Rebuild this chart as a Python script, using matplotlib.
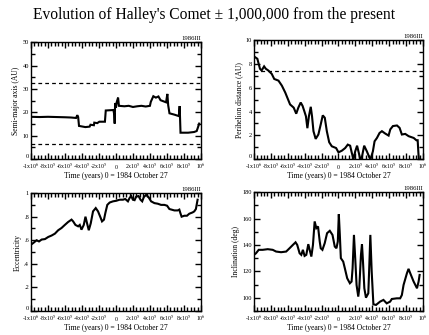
import matplotlib
matplotlib.use("Agg")
import matplotlib.pyplot as plt
from matplotlib.ticker import MultipleLocator, FixedLocator, FixedFormatter
import numpy as np

plt.rcParams['font.family'] = ['Liberation Serif', 'DejaVu Serif']
plt.rcParams['mathtext.fontset'] = 'stix'

title = "Evolution of Halley's Comet \u00b1 1,000,000 from the present"
xlabel = "Time (years) 0 = 1984 October 27"
tag = "1986III"

xtick_vals = [-1e6, -8e5, -6e5, -4e5, -2e5, 0, 2e5, 4e5, 6e5, 8e5, 1e6]
xtick_labels = [r"-1x10$^{6}$", r"-8x10$^{5}$", r"-6x10$^{5}$", r"-4x10$^{5}$", r"-2x10$^{5}$",
                "0", r"2x10$^{5}$", r"4x10$^{5}$", r"6x10$^{5}$", r"8x10$^{5}$", r"10$^{6}$"]

# Semi-major axis (AU); time in units of 1e5 years
a_t = [-10, -9.0, -8.0, -7.0, -6.0, -5.3, -4.7, -4.55, -4.45, -4.35, -3.6, -3.1, -3.0, -2.6,
       -2.55, -2.2, -1.96, -1.3, -1.2, -0.3, -0.2, -0.15, -0.1, 0.0, 0.1, 0.25, 0.35, 1.0,
       1.5, 2.0, 2.5, 3.0, 3.5, 4.0, 4.1, 4.4, 4.7, 5.0, 5.25, 5.9, 6.05, 6.15, 6.3, 6.9,
       7.4, 7.5, 7.6, 8.5, 9.2, 9.5, 9.6, 9.8]
a_v = [18.1, 18.0, 18.1, 18.0, 17.9, 17.8, 17.6, 18.8, 18.0, 14.2, 13.7, 13.9, 14.7, 14.5,
       15.6, 15.4, 16.0, 16.0, 20.8, 21.0, 19.0, 15.2, 24.0, 22.0, 24.5, 26.3, 22.8, 22.6,
       22.8, 22.3, 22.6, 22.8, 22.5, 22.8, 24.5, 26.9, 26.3, 26.8, 25.2, 24.3, 27.9, 23.0,
       19.6, 19.0, 18.4, 22.7, 11.3, 11.3, 11.6, 12.0, 13.0, 15.2]
a_dash = [32.7, 6.3]

# Perihelion distance (AU)
q_t = [-9.88, -9.6, -9.29, -9.1, -8.8, -8.6, -8.3, -7.9, -7.6, -7.1, -6.7, -6.3, -5.9, -5.73,
       -5.3, -5.0, -4.75, -4.47, -4.25, -4.05, -3.85, -3.68, -3.5, -3.28, -3.13, -2.96, -2.7,
       -2.38, -2.1, -1.86, -1.62, -1.38, -1.1, -0.79, -0.28, 0.0, 0.4, 0.79, 1.1, 1.38, 1.58,
       1.78, 1.98, 2.2, 2.41, 2.57, 2.77, 3.04, 3.36, 3.64, 3.83, 4.07, 4.27, 4.55, 4.86, 5.14,
       5.53, 5.93, 6.13, 6.44, 6.92, 7.23, 7.5, 7.9, 8.3, 8.9, 9.21, 9.37, 9.45, 9.5]
q_v = [8.58, 8.44, 7.6, 7.45, 7.8, 7.6, 7.45, 7.17, 6.74, 6.6, 6.18, 5.6, 4.9, 4.6,
       4.33, 3.82, 4.33, 4.76, 4.48, 4.05, 3.6, 2.6, 3.6, 4.4, 3.6, 2.35, 1.7,
       2.07, 2.92, 3.68, 3.48, 2.35, 1.42, 1.08, 0.93, 0.57, 0.71, 0.93, 1.22, 1.13, 0.51,
       0.0, 0.65, 1.13, 0.51, 0.0, 0.17, 1.13, 0.65, 0.17, 0.08, 0.65, 1.5, 1.78, 2.2, 2.35,
       2.15, 1.98, 2.5, 2.78, 2.83, 2.63, 2.07, 2.12, 1.93, 1.78, 1.59, 1.59, 0.6, 0.05]
q_dash = [7.45]

# Eccentricity
e_t = [-10, -9.73, -9.34, -9.06, -8.75, -8.36, -7.97, -7.58, -7.19, -6.8, -6.41, -6.02, -5.63,
       -5.23, -5.04, -4.77, -4.45, -4.26, -4.06, -3.79, -3.59, -3.4, -3.2, -2.97, -2.7, -2.38,
       -2.11, -1.8, -1.64, -1.41, -1.25, -1.02, -0.74, -0.35, 0.04, 0.43, 0.82, 1.09, 1.41,
       1.6, 1.8, 1.99, 2.19, 2.38, 2.66, 2.89, 3.09, 3.28, 3.55, 3.83, 4.14, 4.53, 4.92, 5.31,
       5.7, 6.02, 6.29, 6.88, 7.27, 7.46, 7.58, 7.73, 8.05, 8.36, 8.63, 9.02, 9.22, 9.41, 9.61]
e_v = [0.563, 0.577, 0.6, 0.59, 0.606, 0.61, 0.628, 0.64, 0.656, 0.685, 0.704, 0.73, 0.755,
       0.775, 0.76, 0.73, 0.718, 0.73, 0.69, 0.73, 0.8, 0.743, 0.685, 0.743, 0.845, 0.873,
       0.845, 0.79, 0.76, 0.775, 0.831, 0.9, 0.92, 0.93, 0.935, 0.944, 0.944, 0.95, 0.93,
       0.958, 0.975, 0.944, 0.94, 0.97, 0.975, 0.944, 0.93, 0.966, 0.985, 0.966, 0.93, 0.915,
       0.91, 0.9, 0.9, 0.893, 0.865, 0.853, 0.853, 0.86, 0.831, 0.8, 0.808, 0.808, 0.825,
       0.836, 0.845, 0.865, 0.944]

# Inclination (deg)
i_t = [-10, -9.76, -9.44, -8.97, -8.37, -7.78, -7.38, -6.79, -6.19, -5.79, -5.4, -5.08, -4.88,
       -4.6, -4.4, -4.21, -4.01, -3.81, -3.57, -3.41, -3.21, -3.02, -2.82, -2.62, -2.42, -2.22,
       -2.1, -1.9, -1.63, -1.35, -1.03, -0.71, -0.44, -0.24, -0.08, 0.04, 0.16, 0.28, 0.56,
       0.75, 1.03, 1.35, 1.55, 1.67, 1.83, 1.98, 2.14, 2.34, 2.46, 2.66, 2.78, 2.9, 3.06, 3.25,
       3.53, 3.65, 3.77, 3.93, 4.13, 4.44, 4.92, 5.32, 5.71, 6.11, 6.31, 6.9, 7.3, 7.5, 7.7,
       8.1, 8.29, 8.49, 8.89, 9.29, 9.48, 9.6]
i_v = [132.5, 133.7, 136.3, 136.3, 136.8, 136.3, 135, 134.5, 135, 137.5, 140, 142, 140,
       133.7, 132.5, 136.3, 131.7, 132.5, 140.6, 136.3, 131.2, 140, 157.8, 152.7, 154, 142.6,
       137.5, 136.3, 141.3, 148.9, 150.7, 147.6, 138.8, 137.5, 142.6, 163.3, 147.6, 130,
       127.4, 122.4, 114.8, 111, 112.3, 122.4, 147.6, 130, 109.7, 100.9, 107.2, 132.5, 140.6,
       127.4, 107.2, 100.1, 103.4, 124.9, 147.6, 119.8, 95.1, 94.6, 97.1, 98.4, 95.8, 97.1,
       99.1, 99.6, 99.6, 102.1, 109.7, 118.6, 121.9, 118.6, 112.3, 107.2, 112.3, 117.3]

fig = plt.figure(figsize=(4.29, 3.35), dpi=100)
fig.patch.set_facecolor('white')
fig.text(0.5, 0.956, title, ha='center', va='center', fontsize=11.2)

panels = [
    ([0.0723, 0.525, 0.396, 0.349], a_t, a_v, a_dash, (0, 50), 5,
     "Semi-major axis (AU)", [str(v) for v in range(0, 51, 10)], list(range(0, 51, 10))),
    ([0.592, 0.525, 0.394, 0.355], q_t, q_v, q_dash, (0, 10), 1,
     "Perihelion distance (AU)", [str(v) for v in range(0, 11, 2)], list(range(0, 11, 2))),
    ([0.0723, 0.0716, 0.396, 0.352], e_t, e_v, [], (0, 1), 0.1,
     "Eccentricity", ["0", ".2", ".4", ".6", ".8", "1"], [0, 0.2, 0.4, 0.6, 0.8, 1.0]),
    ([0.592, 0.0716, 0.394, 0.355], i_t, i_v, [], (90, 180), 10,
     "Inclination (deg)", [str(v) for v in range(100, 181, 20)], list(range(100, 181, 20))),
]

for rect, t, v, dashes, ylim, ymin, ylab, ytl, ytv in panels:
    ax = fig.add_axes(rect)
    ax.plot(np.array(t) * 1e5, v, color='black', lw=1.5, solid_joinstyle='miter')
    for d in dashes:
        ax.axhline(d, color='black', lw=0.9, ls=(0, (3, 2.5)))
    ax.set_xlim(-1e6, 1e6)
    ax.set_ylim(*ylim)
    ax.xaxis.set_major_locator(FixedLocator(xtick_vals))
    ax.xaxis.set_major_formatter(FixedFormatter(xtick_labels))
    ax.xaxis.set_minor_locator(MultipleLocator(4e4))
    ax.yaxis.set_major_locator(FixedLocator(ytv))
    ax.yaxis.set_major_formatter(FixedFormatter(ytl))
    ax.yaxis.set_minor_locator(MultipleLocator(ymin))
    ax.tick_params(which='both', direction='in', top=True, right=True, width=1.0)
    ax.tick_params(axis='x', labelsize=4.2, pad=7.2)
    ax.tick_params(axis='y', labelsize=4.6, pad=1.5)
    ax.tick_params(which='major', length=4.5)
    ax.tick_params(which='minor', length=3)
    for lab in ax.get_xticklabels():
        lab.set_verticalalignment('baseline')
    if ytv[0] == ylim[0]:
        ax.get_yticklabels()[0].set_verticalalignment('bottom')
    for s in ax.spines.values():
        s.set_linewidth(1.0)
    ax.set_xlabel(xlabel, fontsize=5.5, labelpad=0.8)
    ax.set_ylabel(ylab, fontsize=5.5, labelpad=2)
    ax.text(1.0, 1.012, tag, transform=ax.transAxes, ha='right', va='bottom', fontsize=4.8)

fig.savefig("out.png", dpi=100, facecolor='white')
